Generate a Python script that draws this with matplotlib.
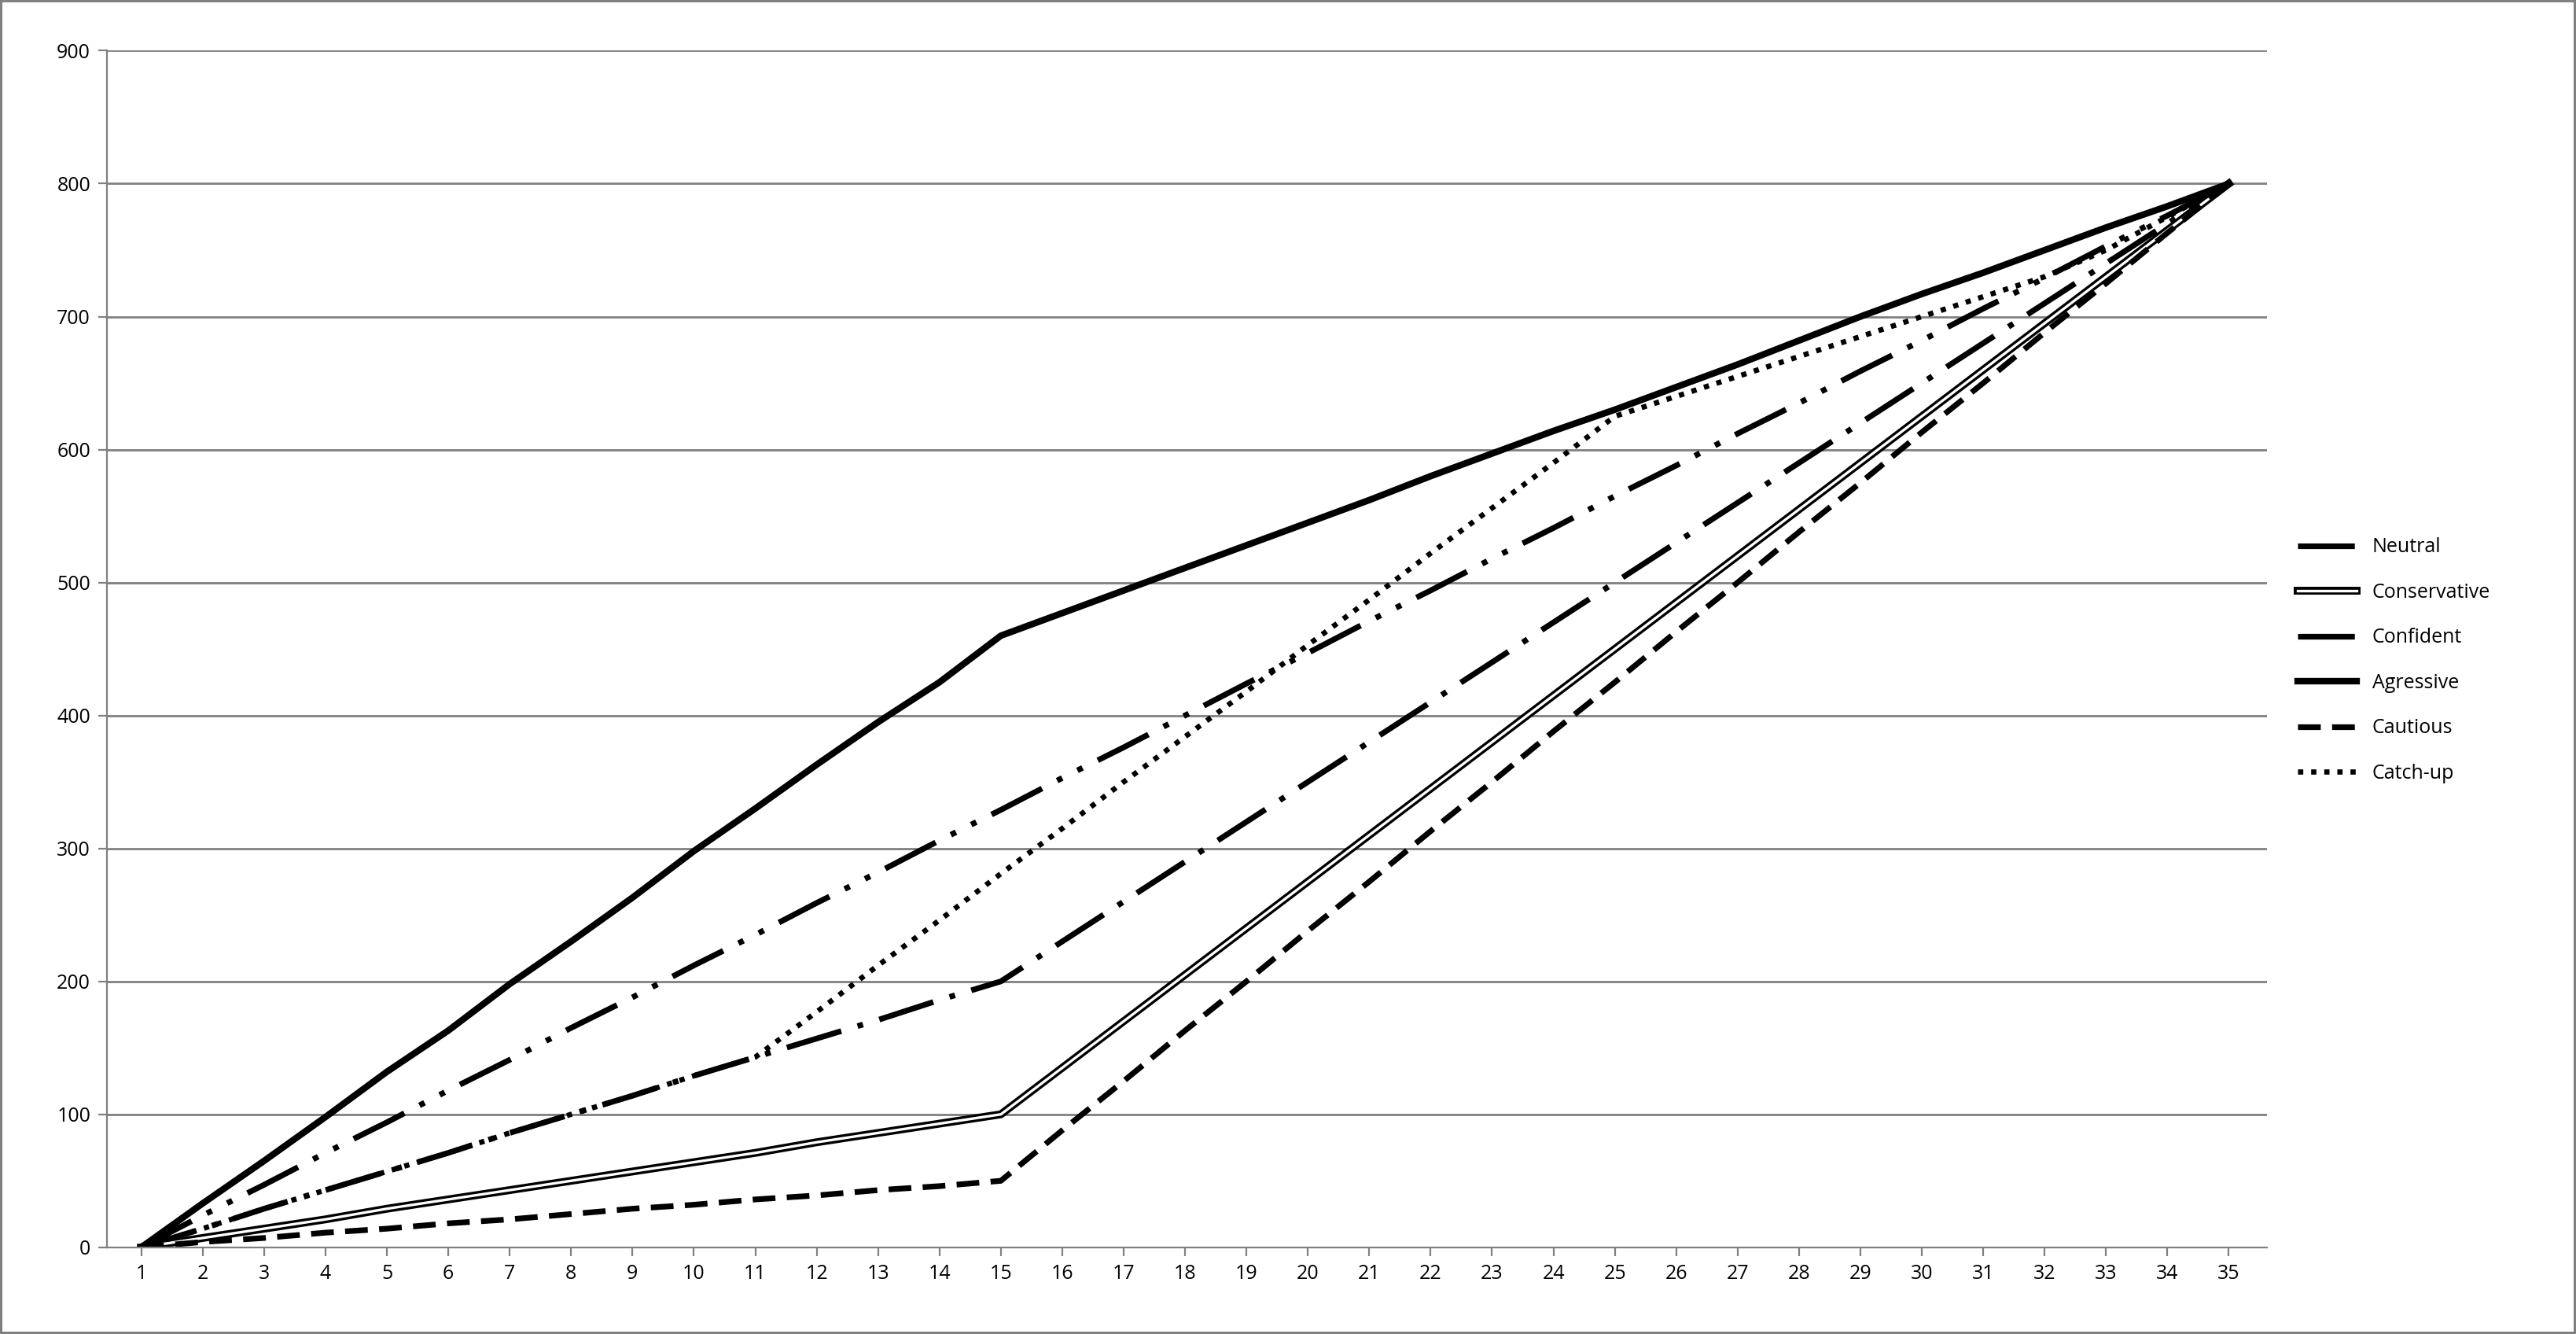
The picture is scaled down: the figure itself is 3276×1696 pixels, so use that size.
import matplotlib
matplotlib.use("Agg")
import matplotlib.pyplot as plt
import matplotlib.patheffects as pe

plt.rcParams['font.family'] = ['Open Sans', 'DejaVu Sans']

x = list(range(1, 36))
neutral = [0, 14, 29, 43, 57, 71, 86, 100, 114, 129, 143, 157, 171, 186, 200,
           230, 260, 290, 320, 350, 380, 410, 440, 470, 500, 530, 560, 590, 620, 650,
           680, 710, 740, 770, 800]
conservative = [0, 7, 14, 21, 29, 36, 43, 50, 57, 64, 71, 79, 86, 93, 100,
                135, 170, 205, 240, 275, 310, 345, 380, 415, 450, 485, 520, 555, 590, 625,
                660, 695, 730, 765, 800]
confident = [0, 24, 47, 71, 94, 118, 141, 165, 188, 212, 235, 259, 282, 306, 329,
             353, 376, 400, 424, 447, 471, 494, 518, 541, 565, 588, 612, 635, 659, 682,
             706, 729, 753, 776, 800]
agressive = [0, 33, 65, 98, 132, 163, 198, 230, 263, 298, 330, 363, 395, 425, 460,
             477, 494, 511, 528, 545, 562, 580, 597, 614, 630, 647, 664, 682, 700, 717,
             733, 750, 767, 783, 800]
cautious = [0, 4, 7, 11, 14, 18, 21, 25, 29, 32, 36, 39, 43, 46, 50,
            88, 125, 163, 200, 238, 275, 313, 350, 388, 425, 463, 500, 538, 575, 613,
            650, 688, 725, 763, 800]
catchup = [0, 14, 29, 43, 57, 71, 86, 100, 114, 129, 143, 177, 212, 246, 281,
           315, 350, 384, 418, 453, 487, 522, 556, 590, 625, 640, 655, 670, 685, 700,
           715, 730, 750, 775, 800]

fig = plt.figure(figsize=(16.38, 8.48), dpi=200)
fig.patch.set_edgecolor('#808080')
fig.patch.set_linewidth(2)
ax = fig.add_axes([0.0415, 0.065, 0.8385, 0.897])

ax.plot(x, neutral, color='black', lw=2.6, dashes=(10, 3, 1, 3), label='Neutral')
ax.plot(x, conservative, color='white', lw=1.2, label='Conservative',
        path_effects=[pe.Stroke(linewidth=3.6, foreground='black'), pe.Normal()])
ax.plot(x, confident, color='black', lw=2.6, dashes=(10, 3, 1, 3, 1, 3), label='Confident')
ax.plot(x, agressive, color='black', lw=3.0, label='Agressive')
ax.plot(x, cautious, color='black', lw=2.6, dashes=(4, 2), label='Cautious')
ax.plot(x, catchup, color='black', lw=2.4, dashes=(1, 1.5), label='Catch-up')

ax.set_xlim(0.44, 35.62)
ax.set_ylim(0, 900)
ax.set_xticks(x)
ax.set_yticks(range(0, 901, 100))
ax.tick_params(labelsize=9, length=4, color='#808080')
ax.yaxis.grid(True, color='#808080', lw=1)
ax.set_axisbelow(True)
for s in ['top', 'right']:
    ax.spines[s].set_visible(False)
for s in ['left', 'bottom']:
    ax.spines[s].set_color('#808080')

fig.legend(loc='center left', bbox_to_anchor=(0.885, 0.505), frameon=False,
           fontsize=9, handlelength=3.0, labelspacing=1.3)
fig.savefig('out.png', dpi=200)
